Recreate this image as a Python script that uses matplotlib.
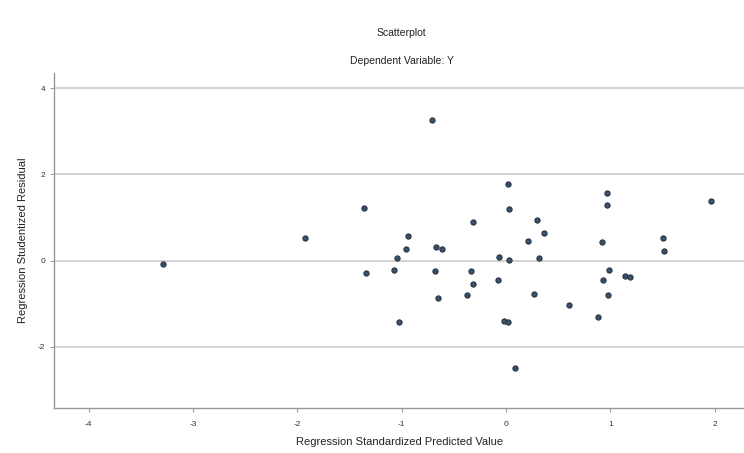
import matplotlib
matplotlib.use("Agg")
import matplotlib.pyplot as plt

# standardized predicted value / studentized residual
pred = [-3.29, -1.93, -1.36, -1.34, -1.07, -1.05, -1.03, -0.96, -0.94, -0.71,
        -0.67, -0.61, -0.68, -0.65, -0.37, -0.34, -0.32, -0.32, -0.08, -0.07,
        -0.02, 0.02, 0.02, 0.03, 0.03, 0.09, 0.21, 0.27, 0.30, 0.32,
        0.36, 0.60, 0.88, 0.92, 0.93, 0.98, 0.99, 0.97, 0.97, 1.14,
        1.19, 1.50, 1.51, 1.96]
resid = [-0.09, 0.53, 1.22, -0.28, -0.22, 0.07, -1.43, 0.28, 0.57, 3.27,
         0.32, 0.26, -0.25, -0.86, -0.80, -0.25, -0.55, 0.90, -0.46, 0.09,
         -1.40, -1.42, 1.78, 1.19, 0.02, -2.50, 0.45, -0.77, 0.95, 0.06,
         0.63, -1.04, -1.30, 0.42, -0.46, -0.80, -0.21, 1.57, 1.28, -0.36,
         -0.38, 0.53, 0.23, 1.37]

xticks = [-4, -3, -2, -1, 0, 1, 2]
yticks = [-2, 0, 2, 4]

plt.rcParams["font.family"] = ["Liberation Sans", "DejaVu Sans"]
plt.rcParams["axes.unicode_minus"] = False

fig = plt.figure(figsize=(7.44, 4.53), dpi=100)
ax = fig.add_axes([0.073, 0.099, 0.927, 0.740])

for y in yticks:
    ax.axhline(y, color="#d2d2d2", lw=1.4, zorder=0)

ax.scatter(pred, resid, s=15, color="#3a5068", edgecolors="#1e2a36",
           linewidths=0.6, zorder=3)

ax.set_xlim(-4.33, 2.28)
ax.set_ylim(-3.42, 4.35)
ax.set_xticks(xticks)
ax.set_yticks(yticks)
ax.tick_params(labelsize=6, length=3, width=0.6, color="#888888",
               labelcolor="#333333")
ax.tick_params(axis="x", pad=6)

for side in ("top", "right"):
    ax.spines[side].set_visible(False)
for side in ("left", "bottom"):
    ax.spines[side].set_color("#999999")
    ax.spines[side].set_linewidth(1.0)

ax.set_xlabel("Regression Standardized Predicted Value", fontsize=8,
              color="#222222", labelpad=7)
ax.set_ylabel("Regression Studentized Residual", fontsize=8,
              color="#222222", labelpad=7)

fig.text(0.54, 0.920, "Scatterplot", ha="center", fontsize=7.5, color="#222222")
fig.text(0.54, 0.858, "Dependent Variable: Y", ha="center", fontsize=7.5,
         color="#222222")

fig.savefig("out.png", dpi=100)
